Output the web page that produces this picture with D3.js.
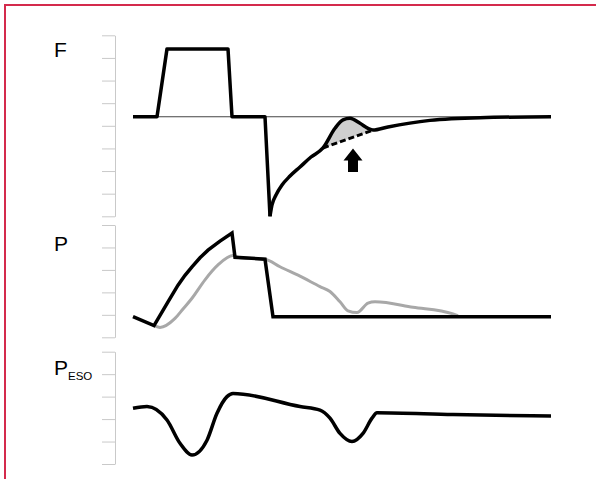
<!DOCTYPE html>
<html>
<head>
<meta charset="utf-8">
<script src="https://cdn.jsdelivr.net/npm/d3@7"></script>
<style>
  html, body { margin: 0; padding: 0; background: #fff; overflow: hidden; }
  svg { display: block; }
</style>
</head>
<body>
<script>
// 時間軸 (s) と各波形の値
const flowTime  = [0, 0.24, 0.34, 0.95, 0.99, 1.32, 1.37];
const flowValue = [0, 0, 30, 30, 0, 0, -44];

// 呼気の減衰カーブ（途中にこぶ）
const decayTime  = [1.37, 1.39, 1.43, 1.49, 1.57, 1.67, 1.78, 1.90, 2.02, 2.10, 2.17, 2.27, 2.35, 2.40, 2.55, 2.97, 3.47, 4.18];
const decayValue = [-44, -39.0, -34.6, -30.2, -26.2, -22.2, -17.8, -13.8, -5.1, -1.4, -0.7, -2.9, -5.1, -5.9, -4.5, -1.6, -0.4, 0];

// こぶの下の破線（本来の減衰）
const dashTime  = [1.90, 2.40];
const dashValue = [-13.8, -5.9];

// 矢印の先端
const arrowTime = 2.20;
const arrowValue = -14;

const pawTime  = [0, 0.21, 0.35, 0.45, 0.52, 0.59, 0.67, 0.75, 0.87, 0.99, 1.02, 1.32, 1.40, 4.18];
const pawValue = [-0.4, -2.4, 2.9, 6.6, 8.8, 10.7, 12.7, 14.4, 16.4, 18.2, 12.8, 12.4, -0.4, -0.4];

const grayTime  = [0.20, 0.27, 0.42, 0.50, 0.59, 0.72, 0.85, 1.00, 1.07, 1.32, 1.47, 1.67, 1.87, 1.97, 2.07, 2.15, 2.24, 2.35, 2.42, 2.80, 3.20, 3.25];
const grayValue = [-2.3, -2.8, -0.8, 1.3, 3.7, 7.8, 11.1, 13.2, 12.7, 12.4, 10.7, 8.6, 6.3, 5.2, 2.9, 0.9, 0.5, 2.6, 2.9, 1.7, 0.2, -0.2];

const esoTime  = [0, 0.14, 0.34, 0.47, 0.59, 0.74, 0.84, 0.94, 1.00, 1.67, 1.87, 1.97, 2.07, 2.19, 2.30, 2.39, 2.44, 3.20, 4.18];
const esoValue = [-7.6, -7.2, -10.2, -15.4, -18.0, -14.7, -8.7, -5.0, -4.3, -7.2, -8.0, -9.8, -13.2, -15.0, -13.2, -9.8, -8.6, -9.0, -9.3];

// 目盛り（ラベルなし）
const flowTicks = [-44, -34, -24, -14, -4, 6, 16, 26, 36];
const pawTicks  = [-5, 0, 5, 10, 15, 20];
const esoTicks  = [-20, -15, -10, -5, 0, 5];

const width = 596;
const height = 479;

const svg = d3.select("body").append("svg")
  .attr("width", width)
  .attr("height", height);

// 赤い枠
svg.append("rect")
  .attr("x", 5).attr("y", 5)
  .attr("width", width + 10).attr("height", height + 10)
  .attr("fill", "none")
  .attr("stroke", "#d42a4c")
  .attr("stroke-width", 2);

const x = d3.scaleLinear().domain([0, 4.18]).range([133, 551]);
const yF = d3.scaleLinear().domain([-44, 36]).range([216.3, 35.3]);
const yP = d3.scaleLinear().domain([-5, 20]).range([337.3, 225]);
const yE = d3.scaleLinear().domain([-20, 5]).range([464, 351.7]);

const zip = (ts, vs) => ts.map((t, i) => [t, vs[i]]);

// 軸
const drawAxis = (scale, ticks) => {
  const g = svg.append("g")
    .attr("transform", "translate(115,0)")
    .call(d3.axisLeft(scale).tickValues(ticks).tickSize(13).tickSizeOuter(0).tickFormat(""));
  g.selectAll("path, line").attr("stroke", "#c9c9c9").attr("stroke-width", 1);
};
drawAxis(yF, flowTicks);
drawAxis(yP, pawTicks);
drawAxis(yE, esoTicks);

// ラベル
const labelFont = "Liberation Sans, Arial, Helvetica, sans-serif";
svg.append("text").attr("x", 54).attr("y", 57)
  .attr("font-family", labelFont).attr("font-size", 21).text("F");
svg.append("text").attr("x", 54).attr("y", 251)
  .attr("font-family", labelFont).attr("font-size", 21).text("P");
const peso = svg.append("text").attr("x", 54).attr("y", 375)
  .attr("font-family", labelFont).attr("font-size", 21);
peso.append("tspan").text("P");
peso.append("tspan").attr("font-size", 11.5).attr("dy", 5).text("ESO");

// F パネル
const lineF = d3.line().x(d => x(d[0])).y(d => yF(d[1]));

// 基準線
svg.append("line")
  .attr("x1", x(0)).attr("x2", x(4.18))
  .attr("y1", yF(0)).attr("y2", yF(0))
  .attr("stroke", "#444").attr("stroke-width", 1);

// こぶの塗り
const dashScale = d3.scaleLinear().domain(dashTime).range(dashValue);
const bump = zip(decayTime, decayValue).filter(d => d[0] >= dashTime[0] && d[0] <= dashTime[1]);
svg.append("path")
  .datum(bump)
  .attr("d", d3.area()
    .x(d => x(d[0]))
    .y0(d => yF(dashScale(d[0])))
    .y1(d => yF(d[1]))
    .curve(d3.curveMonotoneX))
  .attr("fill", "#cfcfcf");

svg.append("path")
  .datum(zip(dashTime, dashValue))
  .attr("d", lineF)
  .attr("fill", "none")
  .attr("stroke", "#000")
  .attr("stroke-width", 3)
  .attr("stroke-dasharray", "6,3");

svg.append("path")
  .datum(zip(flowTime, flowValue))
  .attr("d", lineF)
  .attr("fill", "none")
  .attr("stroke", "#000")
  .attr("stroke-width", 3.5)
  .attr("stroke-linejoin", "round");

svg.append("path")
  .datum(zip(decayTime, decayValue))
  .attr("d", lineF.curve(d3.curveMonotoneX))
  .attr("fill", "none")
  .attr("stroke", "#000")
  .attr("stroke-width", 3.5)
  .attr("stroke-linejoin", "round");

// 矢印
svg.append("path")
  .attr("transform", `translate(${x(arrowTime)},${yF(arrowValue)})`)
  .attr("d", "M0,0L9.5,12L5,12L5,23.5L-5,23.5L-5,12L-9.5,12Z")
  .attr("fill", "#000");

// P パネル
svg.append("path")
  .datum(zip(grayTime, grayValue))
  .attr("d", d3.line().x(d => x(d[0])).y(d => yP(d[1])).curve(d3.curveMonotoneX))
  .attr("fill", "none")
  .attr("stroke", "#a8a8a8")
  .attr("stroke-width", 3);

svg.append("path")
  .datum(zip(pawTime, pawValue))
  .attr("d", d3.line().x(d => x(d[0])).y(d => yP(d[1])))
  .attr("fill", "none")
  .attr("stroke", "#000")
  .attr("stroke-width", 3.5)
  .attr("stroke-linejoin", "miter");

// PESO パネル
svg.append("path")
  .datum(zip(esoTime, esoValue))
  .attr("d", d3.line().x(d => x(d[0])).y(d => yE(d[1])).curve(d3.curveMonotoneX))
  .attr("fill", "none")
  .attr("stroke", "#000")
  .attr("stroke-width", 3.5);
</script>
</body>
</html>
